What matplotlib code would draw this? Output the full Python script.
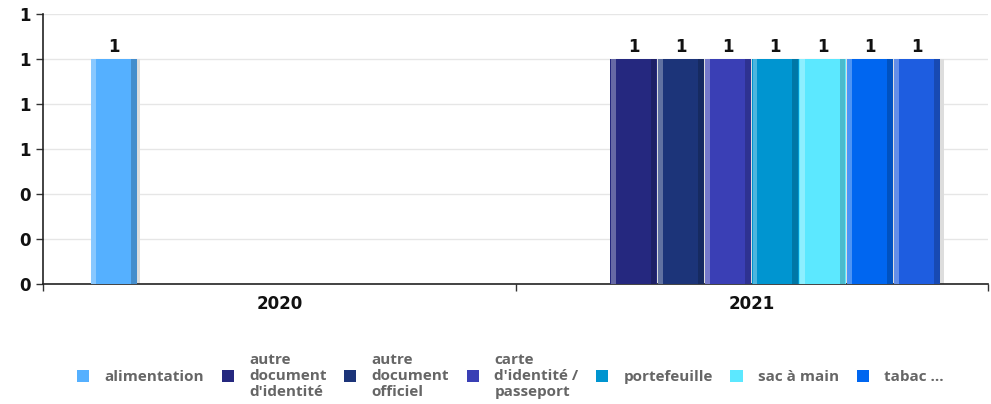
import numpy as np
import matplotlib
matplotlib.use("Agg")
import matplotlib.pyplot as plt
import matplotlib.colors as mcolors
from matplotlib.patches import Patch

# --- data ---
years = ["2020", "2021"]
series = [
    "alimentation",
    "autre\ndocument\nd'identité",
    "autre\ndocument\nofficiel",
    "carte\nd'identité /\npasseport",
    "portefeuille",
    "sac à main",
    "tabac ...",
    "",  # 8th series, its legend entry is cut off in the original
]
values = [
    [1, 0],
    [0, 1],
    [0, 1],
    [0, 1],
    [0, 1],
    [0, 1],
    [0, 1],
    [0, 1],
]
colors = ["#55b0ff", "#25287f", "#1c3479", "#3a3fb5",
          "#0095d0", "#5ce8ff", "#0066f0", "#1e5de0"]
y_ticks = [0, 0.2, 0.4, 0.6, 0.8, 1.0, 1.2]


def shade(c, f):
    r, g, b = mcolors.to_rgb(c)
    if f > 0:
        return (r + (1 - r) * f, g + (1 - g) * f, b + (1 - b) * f)
    return (r * (1 + f), g * (1 + f), b * (1 + f))


fig = plt.figure(figsize=(9.91, 4.04), dpi=100)
ax = fig.add_axes([43 / 991, 120 / 404, 945 / 991, 270 / 404])

n = len(series)
group_w = 0.8
w = group_w / n
x = np.arange(len(years))

for i, (name, vals, c) in enumerate(zip(series, values, colors)):
    pos = x - group_w / 2 + w * (i + 0.5)
    vals = np.array(vals, dtype=float)
    pos = pos[vals > 0]
    vals = vals[vals > 0]
    # soft drop shadow
    ax.bar(pos + w * 0.06, vals, width=w, color="#dddddd", zorder=2)
    bars = ax.bar(pos, vals, width=w * 0.98, color=c, zorder=3)
    # highlight on the left, darker edge on the right
    ax.bar(pos - w * 0.43, vals, width=w * 0.10, color=shade(c, 0.3), zorder=4)
    ax.bar(pos + w * 0.42, vals, width=w * 0.12, color=shade(c, -0.2), zorder=4)
    ax.bar_label(bars, labels=["%d" % v for v in vals], padding=2,
                 fontsize=12, fontweight="bold", color="#111111")

ax.set_xlim(-0.5, len(years) - 0.5)
ax.set_ylim(0, 1.2)
ax.set_yticks(y_ticks)
ax.set_yticklabels(["%.0f" % t for t in y_ticks])
ax.set_xticks(x)
ax.set_xticklabels(years)
ax.set_xticks(np.arange(len(years) + 1) - 0.5, minor=True)
ax.tick_params(axis="x", which="major", length=0, pad=8,
               labelsize=12, labelcolor="#111111")
ax.tick_params(axis="x", which="minor", length=5, width=1, color="#333333")
ax.tick_params(axis="y", length=5, width=1, color="#333333",
               labelsize=12, labelcolor="#111111", pad=4)
for lab in ax.get_xticklabels() + ax.get_yticklabels():
    lab.set_fontweight("bold")

ax.grid(axis="y", color="#e6e6e6", linewidth=1, zorder=0)
ax.set_axisbelow(True)
for s in ["top", "right"]:
    ax.spines[s].set_visible(False)
ax.spines["left"].set_color("#222222")
ax.spines["bottom"].set_color("#222222")
ax.spines["left"].set_linewidth(1.2)
ax.spines["bottom"].set_linewidth(1.2)

handles = [Patch(facecolor=c, edgecolor="none") for c in colors[:7]]
leg = fig.legend(handles, series[:7], loc="center", bbox_to_anchor=(0.515, 0.07),
                 ncol=7, frameon=False, handlelength=0.8, handleheight=0.8,
                 handletextpad=1.0, columnspacing=1.15,
                 prop={"family": "Open Sans", "weight": "bold", "size": 11})
for t in leg.get_texts():
    t.set_color("#666666")
    t.set_linespacing(1.2)

fig.savefig("out.png", dpi=100)
